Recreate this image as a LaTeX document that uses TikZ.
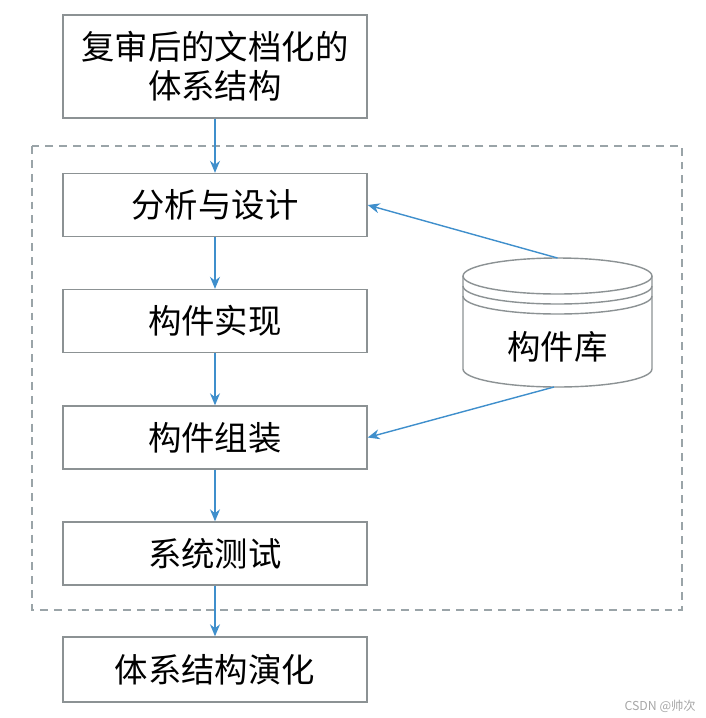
\documentclass[tikz,border=0pt]{standalone}
\usepackage{fontspec}
\setmainfont{Noto Sans CJK SC}
\usetikzlibrary{arrows.meta, positioning}
\definecolor{mBlue}{HTML}{3F8FCC}
\definecolor{mGray}{HTML}{8C9294}
\definecolor{mDash}{HTML}{9AA4A8}

\begin{document}
\begin{tikzpicture}[x=0.02cm, y=-0.02cm,
      >={Stealth[length=2.4mm, width=2mm]},
      stage/.style={draw=mGray, line width=0.8pt, minimum width=6.08cm,
                    minimum height=1.26cm, inner sep=2pt,
                    font=\fontsize{19}{22}\selectfont},
      flow/.style={->, draw=mBlue, fill=mBlue, line width=0.8pt},
      dbline/.style={draw=mGray, line width=0.8pt}]
    \useasboundingbox (0,0) rectangle (706,718);

    % dashed frame round the development stages
    \draw[mDash, line width=0.8pt, dash pattern=on 4.5pt off 3.4pt]
      (32,146) rectangle (682,610);

    \node[stage, minimum height=2.06cm, align=center] (arch) at (215,66.5)
      {复审后的文档化的\\体系结构};
    \node[stage] (design) at (215,205)   {分析与设计};
    \node[stage] (impl)   at (215,321)   {构件实现};
    \node[stage] (assem)  at (215,437.5) {构件组装};
    \node[stage] (test)   at (215,553.5) {系统测试};
    \node[stage, minimum height=1.3cm] (evol) at (215,669.5) {体系结构演化};

    \draw[flow] (arch) -- (design);
    \draw[flow] (design) -- (impl);
    \draw[flow] (impl) -- (assem);
    \draw[flow] (assem) -- (test);
    \draw[flow] (test) -- (evol);

    % component library
    \coordinate (lib) at (557.5,276);
    \draw[dbline] (463,276) -- (463,369)
      arc[start angle=180, end angle=360, x radius=1.89cm, y radius=0.36cm]
      -- (652,276);
    \draw[dbline] (lib) ellipse [x radius=1.89cm, y radius=0.36cm];
    \draw[dbline] (463,286)
      arc[start angle=180, end angle=360, x radius=1.89cm, y radius=0.36cm];
    \draw[dbline] (463,296)
      arc[start angle=180, end angle=360, x radius=1.89cm, y radius=0.36cm];
    \node[font=\fontsize{19}{22}\selectfont] (db) at (557.5,347) {构件库};
    \coordinate (dbtop) at (557.5,258);
    \coordinate (dbbot) at (554,387);

    \draw[flow] (dbtop) -- (design.east);
    \draw[flow] (dbbot) -- (assem.east);

    \node[text=gray!70, font=\fontsize{7}{8}\selectfont, anchor=east]
      (mark) at (702,706) {CSDN @帅次};
\end{tikzpicture}
\end{document}
